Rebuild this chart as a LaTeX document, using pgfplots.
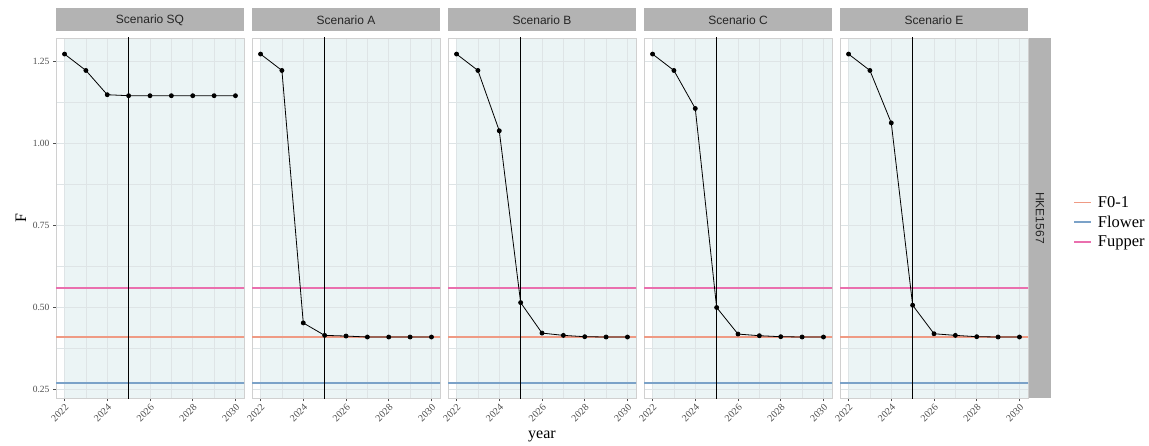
\documentclass[border=0pt]{standalone}
\usepackage{pgfplots}
\pgfplotsset{compat=1.18}
\usepackage{pgfplotstable}
\usepackage{fontspec}
\setmainfont{Liberation Serif}
\newfontfamily\arial{Liberation Sans}

\definecolor{colmid}{rgb}{0.937,0.604,0.518}
\definecolor{collow}{rgb}{0.482,0.635,0.784}
\definecolor{fpink}{rgb}{0.918,0.435,0.682}
\definecolor{bgc}{HTML}{EBF4F5}
\definecolor{gridc}{HTML}{DEE4E6}
\definecolor{borderc}{HTML}{D0D0D0}
\definecolor{stripc}{HTML}{B3B3B3}
\definecolor{tickc}{HTML}{4D4D4D}

\pgfplotstableread{
year SQ A B C E
2022 1.273 1.273 1.273 1.273 1.273
2023 1.223 1.223 1.223 1.223 1.223
2024 1.149 0.453 1.039 1.107 1.063
2025 1.146 0.415 0.515 0.500 0.507
2026 1.146 0.413 0.422 0.419 0.420
2027 1.146 0.410 0.415 0.414 0.415
2028 1.146 0.410 0.411 0.411 0.411
2029 1.146 0.410 0.410 0.410 0.410
2030 1.146 0.410 0.410 0.410 0.410
}\datatab

\pgfplotstableread{
x     mid  low  upp
2021  0.41 0.27 0.56
2031  0.41 0.27 0.56
}\reftab

\pgfplotsset{
  panel/.style={
    set layers=standard,
    scale only axis, width=188pt, height=360pt, anchor=south west,
    xmin=2021.6, xmax=2030.4, ymin=0.224, ymax=1.322,
    xtick={2022,2024,2026,2028,2030}, minor x tick num=1,
    ytick={0.25,0.5,0.75,1,1.25}, minor y tick num=1,
    grid=both,
    major grid style={color=gridc, line width=0.6pt},
    minor grid style={color=gridc, line width=0.4pt},
    axis line style={color=borderc, line width=0.9pt},
    tick style={color=tickc, line width=0.5pt},
    tick align=outside, major tick length=3pt, minor tick length=0pt,
    xtick pos=bottom, ytick pos=left,
    x tick label style={/pgf/number format/.cd, 1000 sep={}, assume math mode=true, /tikz/.cd,
      rotate=45, anchor=north east, font=\fontsize{10}{11}\selectfont, text=tickc, inner sep=1.5pt},
    y tick label style={/pgf/number format/.cd, fixed, fixed zerofill, precision=2, assume math mode=true, /tikz/.cd,
      font=\fontsize{9.5}{10}\selectfont, text=tickc},
    title style={at={(0.5,1)}, anchor=south, yshift=0.45pt, fill=stripc, minimum width=188pt,
      minimum height=23pt, inner sep=0pt, font=\arial\fontsize{12}{14}\selectfont, text=black!85},
  },
  others/.style={yticklabels={}, ytick style={draw=none}},
  bgrect/.style={draw=none, fill=bgc, forget plot, on layer=axis background},
  hupp/.style={draw=fpink, color=fpink, line width=1.6pt},
  hmid/.style={draw=colmid, color=colmid, line width=1.5pt},
  hlow/.style={draw=collow, color=collow, line width=1.5pt},
  vref/.style={color=black, line width=0.9pt, forget plot},
  series/.style={color=black, line width=0.8pt, mark=*, mark size=2pt, forget plot},
}

\begin{document}
\begin{tikzpicture}

% Panel SQ
\begin{axis}[panel, at={(56pt,47pt)}, title={Scenario SQ}]
\addplot[bgrect] coordinates {(2022,0.224) (2022,1.322) (2030.4,1.322) (2030.4,0.224)} -- cycle;
\addplot[hmid, forget plot] table[x=x, y=mid] {\reftab};
\addplot[hlow, forget plot] table[x=x, y=low] {\reftab};
\addplot[hupp, forget plot] table[x=x, y=upp] {\reftab};
\addplot[vref] coordinates {(2025,0.2) (2025,1.4)};
\addplot[series] table[x=year, y=SQ] {\datatab};
\end{axis}

% Panel A
\begin{axis}[panel, others, at={(252pt,47pt)}, title={Scenario A}]
\addplot[bgrect] coordinates {(2022,0.224) (2022,1.322) (2030.4,1.322) (2030.4,0.224)} -- cycle;
\addplot[hmid, forget plot] table[x=x, y=mid] {\reftab};
\addplot[hlow, forget plot] table[x=x, y=low] {\reftab};
\addplot[hupp, forget plot] table[x=x, y=upp] {\reftab};
\addplot[vref] coordinates {(2025,0.2) (2025,1.4)};
\addplot[series] table[x=year, y=A] {\datatab};
\end{axis}

% Panel B
\begin{axis}[panel, others, at={(448pt,47pt)}, title={Scenario B}]
\addplot[bgrect] coordinates {(2022,0.224) (2022,1.322) (2030.4,1.322) (2030.4,0.224)} -- cycle;
\addplot[hmid, forget plot] table[x=x, y=mid] {\reftab};
\addplot[hlow, forget plot] table[x=x, y=low] {\reftab};
\addplot[hupp, forget plot] table[x=x, y=upp] {\reftab};
\addplot[vref] coordinates {(2025,0.2) (2025,1.4)};
\addplot[series] table[x=year, y=B] {\datatab};
\end{axis}

% Panel C
\begin{axis}[panel, others, at={(644pt,47pt)}, title={Scenario C}]
\addplot[bgrect] coordinates {(2022,0.224) (2022,1.322) (2030.4,1.322) (2030.4,0.224)} -- cycle;
\addplot[hmid, forget plot] table[x=x, y=mid] {\reftab};
\addplot[hlow, forget plot] table[x=x, y=low] {\reftab};
\addplot[hupp, forget plot] table[x=x, y=upp] {\reftab};
\addplot[vref] coordinates {(2025,0.2) (2025,1.4)};
\addplot[series] table[x=year, y=C] {\datatab};
\end{axis}

% Panel E (with legend)
\begin{axis}[panel, others, at={(840pt,47pt)}, title={Scenario E},
  legend style={at={(1,0.5)}, anchor=west, xshift=45pt, yshift=-4pt, draw=none, fill=none,
    inner sep=0pt, font=\fontsize{16.5}{19}\selectfont, row sep=3pt},
  legend cell align=left,
  legend image code/.code={\draw[#1, line width=1.7pt] (0pt,0pt) -- (17pt,0pt); \path (21pt,0pt);}]
\addplot[bgrect] coordinates {(2022,0.224) (2022,1.322) (2030.4,1.322) (2030.4,0.224)} -- cycle;
\addplot[hmid] table[x=x, y=mid] {\reftab};
\addlegendentry{F0-1}
\addplot[hlow] table[x=x, y=low] {\reftab};
\addlegendentry{Flower}
\addplot[hupp] table[x=x, y=upp] {\reftab};
\addlegendentry{Fupper}
\addplot[vref] coordinates {(2025,0.2) (2025,1.4)};
\addplot[series] table[x=year, y=E] {\datatab};
\end{axis}

% right strip
\node[fill=stripc, minimum width=360pt, minimum height=22pt, inner sep=0pt, rotate=-90,
  font=\arial\fontsize{12}{14}\selectfont, text=black!85] at (1040pt,227pt) {HKE1567};

% axis titles
\node[rotate=90, font=\fontsize{16}{18}\selectfont] at (21pt,227pt) {F};
\node[font=\fontsize{16}{18}\selectfont] at (542pt,9pt) {year};

% page frame
\path (0,0) rectangle (1149pt,445pt);
\end{tikzpicture}
\end{document}
